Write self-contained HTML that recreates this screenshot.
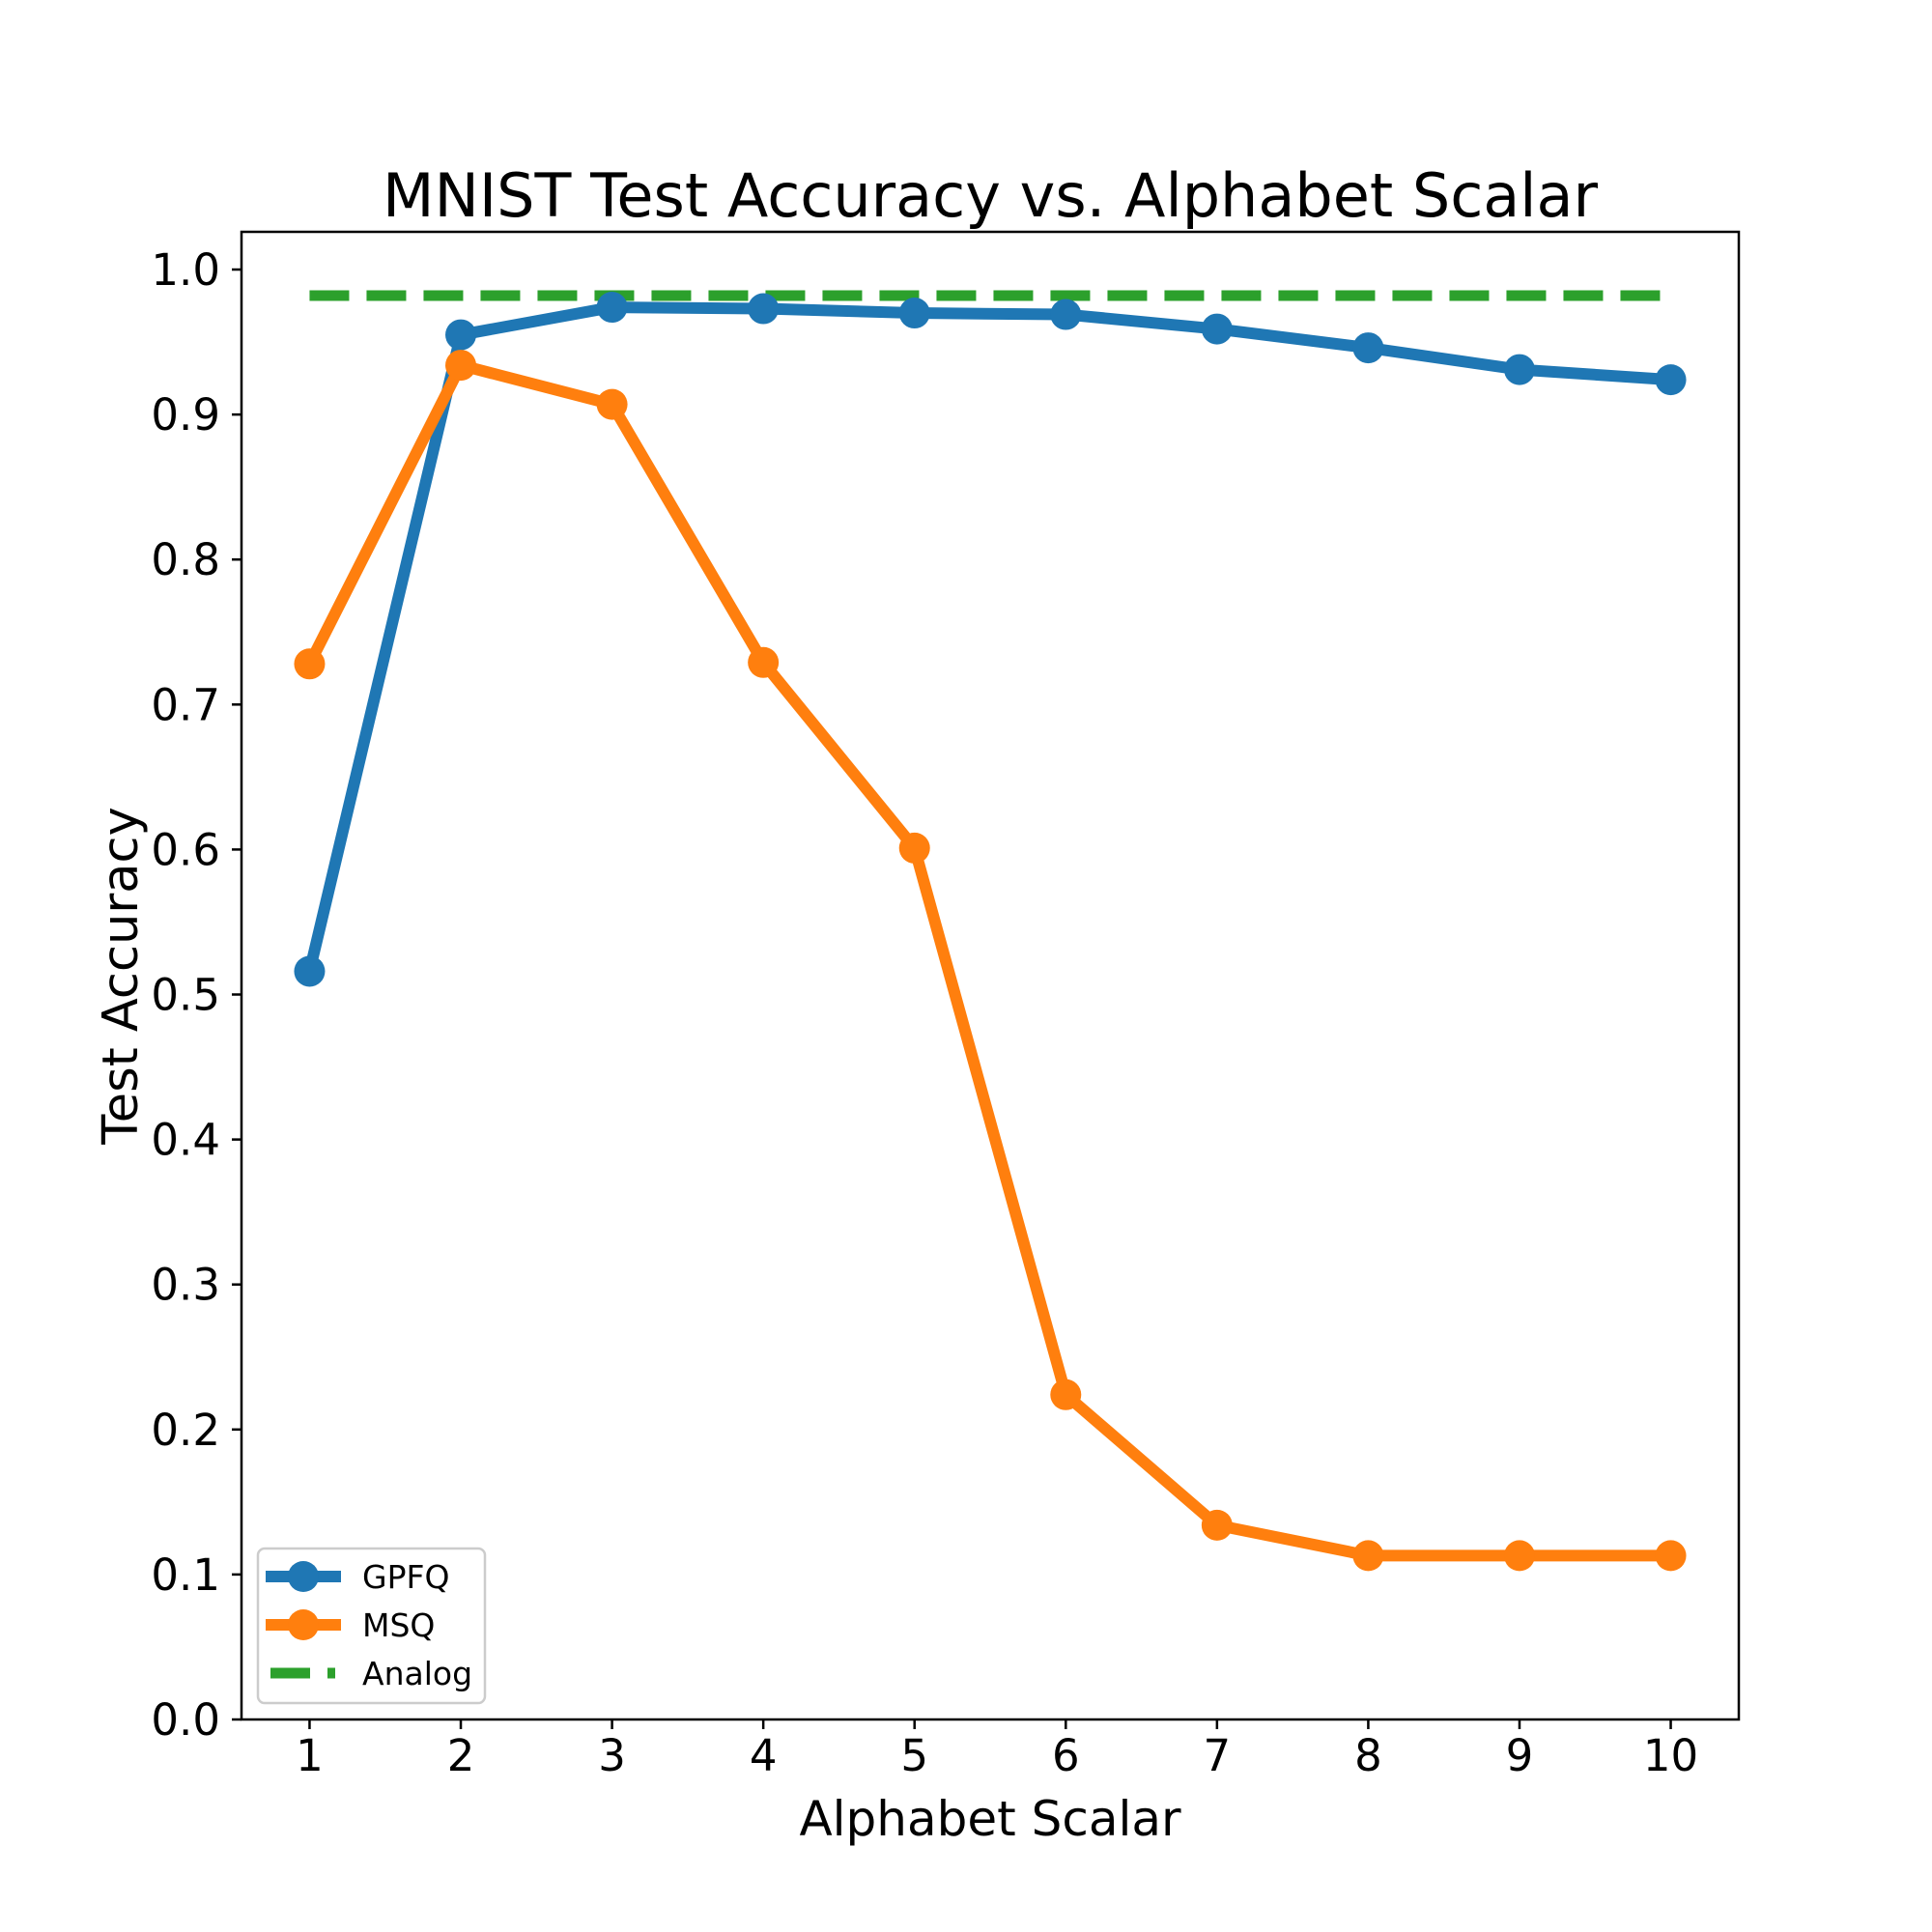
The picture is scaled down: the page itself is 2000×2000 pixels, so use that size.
<!DOCTYPE html>
<html><head><meta charset="utf-8"><style>
html,body{margin:0;padding:0;background:#fff}
svg{display:block}
text{font-family:"DejaVu Sans","Liberation Sans",sans-serif;fill:#000}
</style></head><body>
<svg id="chart" width="2000" height="2000" viewBox="0 0 2000 2000" xmlns="http://www.w3.org/2000/svg">
<rect width="2000" height="2000" fill="#fff"/>
<text x="1025" y="224" font-size="62" text-anchor="middle">MNIST Test Accuracy vs. Alphabet Scalar</text>
<g id="plot"></g>
<text x="1025" y="1900" font-size="50" text-anchor="middle">Alphabet Scalar</text>
<text transform="translate(142,1010) rotate(-90)" font-size="51" text-anchor="middle">Test Accuracy</text>
<g>
<rect x="267" y="1603" width="235" height="160" rx="7" fill="#fff" stroke="#cccccc" stroke-width="2.5"/>
<g>
<line x1="275" y1="1632" x2="353" y2="1632" stroke="#1f77b4" stroke-width="12"/>
<circle cx="314" cy="1632" r="16" fill="#1f77b4"/>
<text x="375" y="1644" font-size="33">GPFQ</text></g>
<g>
<line x1="275" y1="1682" x2="353" y2="1682" stroke="#ff7f0e" stroke-width="12"/>
<circle cx="314" cy="1682" r="16" fill="#ff7f0e"/>
<text x="375" y="1694" font-size="33">MSQ</text></g>
<g>
<line x1="280" y1="1732" x2="321" y2="1732" stroke="#2ca02c" stroke-width="11"/>
<line x1="339" y1="1732" x2="347" y2="1732" stroke="#2ca02c" stroke-width="11"/>
<text x="375" y="1744" font-size="33">Analog</text></g>
</g>
</svg>
<script>
const xCategories = [1,2,3,4,5,6,7,8,9,10];
const gpfqValues = [0.516,0.955,0.974,0.973,0.970,0.969,0.959,0.946,0.931,0.924];
const msqValues = [0.728,0.934,0.907,0.729,0.601,0.224,0.134,0.113,0.113,0.113];
const analogValue = 0.982;
const yTicks = [0.0,0.1,0.2,0.3,0.4,0.5,0.6,0.7,0.8,0.9,1.0];
const xTicks = [1,2,3,4,5,6,7,8,9,10];

const L=250,R=1800,T=240,B=1780;
const xMin=0.55,xMax=10.45,yMin=0,yMax=1.026;
const xs=v=>L+(v-xMin)/(xMax-xMin)*(R-L);
const ys=v=>B-(v-yMin)/(yMax-yMin)*(B-T);
const NS='http://www.w3.org/2000/svg';
const plot=document.getElementById('plot');
function mk(tag,attrs,parent){const e=document.createElementNS(NS,tag);for(const k in attrs)e.setAttribute(k,attrs[k]);(parent||plot).appendChild(e);return e;}

yTicks.forEach(t=>{
  const g=mk('g',{});
  
  
  mk('line',{x1:L-10,x2:L,y1:ys(t),y2:ys(t),stroke:'#000','stroke-width':2.5},g);
  const tx=mk('text',{x:L-22,y:ys(t)+16,'font-size':45,'text-anchor':'end'},g);
  tx.textContent=t.toFixed(1);
});
xTicks.forEach(t=>{
  const g=mk('g',{});
  
  
  mk('line',{x1:xs(t),x2:xs(t),y1:B,y2:B+10,stroke:'#000','stroke-width':2.5},g);
  const tx=mk('text',{x:xs(t),y:B+53,'font-size':45,'text-anchor':'middle'},g);
  tx.textContent=String(t);
});

const an=mk('line',{x1:xs(xCategories[0]),x2:xs(xCategories[xCategories.length-1]),y1:ys(analogValue),y2:ys(analogValue),stroke:'#2ca02c','stroke-width':11,'stroke-dasharray':'41 18'});



function series(vals,color,name){
  const g=mk('g',{});
  
  
  const pts=vals.map((v,i)=>xs(xCategories[i])+','+ys(v)).join(' ');
  const pl=mk('polyline',{points:pts,fill:'none',stroke:color,'stroke-width':12,'stroke-linejoin':'round'},g);
  
  
  vals.forEach((v,i)=>{
    const c=mk('circle',{cx:xs(xCategories[i]),cy:ys(v),r:16,fill:color},g);
    
    
  });
}
series(gpfqValues,'#1f77b4','gpfq');
series(msqValues,'#ff7f0e','msq');

const fr=mk('rect',{x:L,y:T,width:R-L,height:B-T,fill:'none',stroke:'#000','stroke-width':2.5});


</script>
</body></html>
